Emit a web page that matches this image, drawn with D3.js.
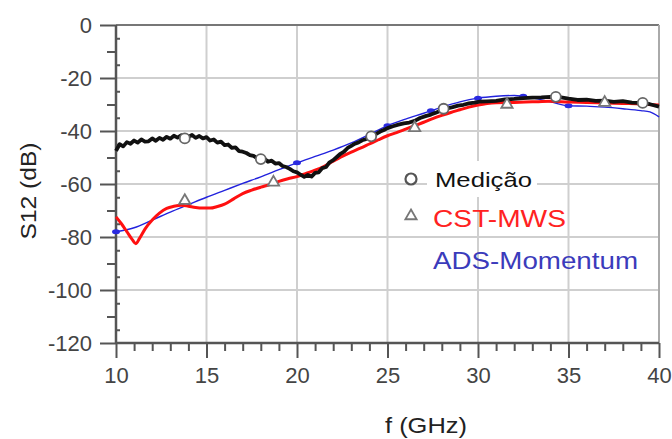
<!DOCTYPE html>
<html>
<head>
<meta charset="utf-8">
<script src="https://cdn.jsdelivr.net/npm/d3@7"></script>
<style>
  body { margin: 0; background: #fff; }
  svg text { font-family: "Liberation Sans", Arial, sans-serif; }
</style>
</head>
<body>
<div id="chart"></div>
<script>
// S12 vs frequency: measurement, CST-MWS, ADS-Momentum

const xTicks = [10, 15, 20, 25, 30, 35, 40]
const yTicks = [0, -20, -40, -60, -80, -100, -120]

// Medição (noisy measured trace)
const measF = [10, 10.2, 10.4, 10.6, 10.8, 11, 11.2, 11.4, 11.6, 11.8, 12, 12.2, 12.4, 12.6, 12.8, 13, 13.2, 13.4, 13.6, 13.8,
  14, 14.2, 14.4, 14.6, 14.8, 15, 15.2, 15.4, 15.6, 15.8, 16, 16.2, 16.4, 16.6, 16.8, 17, 17.2, 17.4, 17.6, 17.8,
  18, 18.2, 18.4, 18.6, 18.8, 19, 19.2, 19.4, 19.6, 19.8, 20, 20.2, 20.4, 20.6, 20.8, 21, 21.2, 21.4, 21.6, 21.8,
  22, 22.2, 22.4, 22.6, 22.8, 23, 23.2, 23.4, 23.6, 23.8, 24, 24.2, 24.4, 24.6, 24.8, 25, 25.3, 25.6, 25.9, 26.2,
  26.5, 26.8, 27.1, 27.4, 27.7, 28, 28.3, 28.6, 28.9, 29.2, 29.5, 29.8, 30.1, 30.5, 31, 31.5, 32, 32.5, 33, 33.5,
  34, 34.5, 35, 35.5, 36, 36.5, 37, 37.5, 38, 38.5, 39, 39.5, 40]
const measDb = [-47.5, -45, -45.8, -44.2, -44.8, -43.6, -44.4, -43.2, -44, -43.9, -42.8, -43.7, -42.6, -43.3, -42.2, -42.9, -41.8, -42.5, -41.6, -42.8,
  -42.2, -41.5, -42.6, -41.9, -42.8, -42.3, -43.6, -43.2, -44.4, -44, -45.3, -45.1, -46.4, -46.2, -47.6, -47.8, -48.3, -49.1, -49.4, -50.3,
  -50.6, -50.4, -51.6, -51.2, -52.3, -52.1, -53.2, -53.6, -54.3, -55.2, -55.6, -56.5, -57.3, -56.6, -57.2, -55.8, -55.6, -54, -53.6, -51.8,
  -51, -49.8, -48.6, -47.8, -46.4, -45.6, -44.8, -44.3, -43.5, -43.1, -42.3, -41.9, -41, -40.2, -39.6, -38.9, -38.2, -37.6, -37.1, -36.8,
  -36.2, -35.1, -34.4, -33.8, -33, -32.2, -31.5, -31, -30.4, -30.1, -29.6, -29.3, -28.9, -28.8, -28.6, -28.1, -27.9, -27.6, -27.4, -27.3,
  -27.1, -27.2, -27.8, -28.3, -28.2, -28.6, -28.5, -29, -28.7, -29.3, -29.4, -29.9, -30.8]
const measMarkF = [13.8, 18, 24.1, 28.1, 34.3, 39.1]
const measMarkDb = [-42.8, -50.6, -42, -31.6, -27.1, -29.4]

// CST-MWS
const cstF = [10, 10.3, 10.6, 10.9, 11.1, 11.3, 11.6, 12, 12.4, 12.8, 13.2, 13.6, 14, 14.4, 14.8, 15.2, 15.6, 16, 16.5, 17,
  17.5, 18, 18.5, 19, 19.5, 20, 20.5, 21, 21.5, 22, 22.5, 23, 23.5, 24, 24.5, 25, 25.5, 26, 26.5, 27,
  27.5, 28, 28.5, 29, 29.5, 30, 30.5, 31, 32, 33, 34, 35, 36, 37, 38, 39, 40]
const cstDb = [-72.4, -75, -78, -81, -82.5, -80.5, -77, -73.6, -71, -69.2, -68.4, -68, -68.4, -68.9, -69.1, -69.1, -68.5, -67.6, -65.6, -63.6,
  -62.3, -61.2, -60.2, -59, -58, -57.2, -56, -54.8, -53.3, -51.4, -49.6, -48, -46.5, -44.9, -43.3, -41.8, -40.6, -39.3, -38, -36.7,
  -35.3, -34.1, -33, -32, -31, -30.2, -29.6, -29.3, -29.2, -29, -28.8, -29.1, -29.2, -29.4, -29.6, -29.8, -30.2]
const cstMarkF = [13.8, 18.7, 26.5, 31.6, 37]
const cstMarkDb = [-66.3, -59.4, -38.8, -30, -29.3]

// ADS-Momentum
const adsF = [10, 11, 12, 13, 14, 15, 16, 17, 18, 19, 20, 21, 22, 23, 24, 25, 26, 27, 28, 29, 30, 31, 32, 33, 34, 35, 36, 37, 38, 39, 39.5, 40]
const adsDb = [-78, -76.5, -73.6, -70.6, -67.8, -65, -62.4, -59.8, -57.3, -54.6, -52, -49.6, -47.2, -44.5, -41.3, -38, -35.5, -33.3, -31, -29, -27.6, -26.9, -26.6, -27.5, -29, -30.5, -30.6, -31, -31.6, -32.3, -32.8, -34.7]
const adsMarkF = [10, 20, 25, 27.4, 30, 32.5, 35]
const adsMarkDb = [-78, -52, -38, -32.4, -27.6, -26.9, -30.5]

const W = 672, H = 439
const m = {top: 25, right: 13, bottom: 96, left: 116}

const svg = d3.select("#chart").append("svg")
  .attr("width", W).attr("height", H)
  .style("background", "#fff")

const x = d3.scaleLinear().domain([10, 40]).range([m.left, W - m.right])
const y = d3.scaleLinear().domain([-120, 0]).range([H - m.bottom, m.top])

// grid
svg.append("g").selectAll("line").data(xTicks.slice(1, -1)).join("line")
  .attr("x1", d => x(d)).attr("x2", d => x(d))
  .attr("y1", y(0)).attr("y2", y(-120))
  .attr("stroke", "#cfcfcf").attr("stroke-width", 2)
svg.append("g").selectAll("line").data(yTicks.slice(1, -1)).join("line")
  .attr("x1", x(10)).attr("x2", x(40))
  .attr("y1", d => y(d)).attr("y2", d => y(d))
  .attr("stroke", "#cfcfcf").attr("stroke-width", 2)

// frame top / right
svg.append("line").attr("x1", x(10)).attr("x2", x(40)).attr("y1", y(0)).attr("y2", y(0))
  .attr("stroke", "#777").attr("stroke-width", 2)
svg.append("line").attr("x1", x(40)).attr("x2", x(40)).attr("y1", y(0)).attr("y2", y(-120))
  .attr("stroke", "#aaa").attr("stroke-width", 2)

function styleAxis(g) {
  g.select(".domain").remove()
  g.selectAll("line").attr("stroke", "#555").attr("stroke-width", 2)
  g.selectAll("text").attr("fill", "#444").style("font-size", "22px")
    .style("font-family", "'Liberation Sans', Arial, sans-serif")
}

// y axis (plain hyphen minus, like the original)
svg.append("g").attr("transform", `translate(${x(10)},0)`)
  .call(d3.axisLeft(y).tickValues(yTicks).tickSize(16).tickPadding(8).tickFormat(d => String(d)))
  .call(styleAxis)
  .selectAll("text").attr("dy", "0.36em")
svg.append("g").attr("transform", `translate(${x(10)},0)`)
  .call(d3.axisLeft(y).tickValues(d3.range(-110, 0, 20)).tickSize(9).tickFormat(""))
  .call(styleAxis)
svg.append("g").attr("transform", `translate(${x(10)},0)`)
  .call(d3.axisRight(y).tickValues(d3.range(-115, 0, 10)).tickSize(4).tickFormat(""))
  .call(styleAxis)

// x axis
svg.append("g").attr("transform", `translate(0,${y(-120)})`)
  .call(d3.axisBottom(x).tickValues(xTicks).tickSize(15).tickPadding(9).tickFormat(d => String(d)))
  .call(styleAxis)
svg.append("g").attr("transform", `translate(0,${y(-120)})`)
  .call(d3.axisBottom(x).tickValues(d3.range(11, 40).filter(d => d % 5 !== 0)).tickSize(8).tickFormat(""))
  .call(styleAxis)

// axis lines
svg.append("line").attr("x1", x(10)).attr("x2", x(10)).attr("y1", y(0)).attr("y2", y(-120))
  .attr("stroke", "#555").attr("stroke-width", 2.5)
svg.append("line").attr("x1", x(10)).attr("x2", x(40)).attr("y1", y(-120)).attr("y2", y(-120))
  .attr("stroke", "#555").attr("stroke-width", 2.5)

// axis titles
svg.append("text").attr("x", 426).attr("y", 433).attr("text-anchor", "middle")
  .attr("textLength", 82).attr("lengthAdjust", "spacingAndGlyphs")
  .style("font-size", "22px").attr("fill", "#222").text("f (GHz)")
svg.append("text").attr("transform", "translate(36,191) rotate(-90)").attr("text-anchor", "middle")
  .attr("textLength", 97).attr("lengthAdjust", "spacingAndGlyphs")
  .style("font-size", "22px").attr("fill", "#222").text("S12 (dB)")

const zip = (a, b) => a.map((v, i) => [v, b[i]])
const line = d3.line().x(d => x(d[0])).y(d => y(d[1]))

// ADS-Momentum (thin blue)
svg.append("path").datum(zip(adsF, adsDb))
  .attr("d", line.curve(d3.curveMonotoneX))
  .attr("fill", "none").attr("stroke", "#2222dd").attr("stroke-width", 1.4)
svg.append("g").selectAll("ellipse").data(zip(adsMarkF, adsMarkDb)).join("ellipse")
  .attr("cx", d => x(d[0])).attr("cy", d => y(d[1])).attr("rx", 4).attr("ry", 2.5)
  .attr("fill", "#2a2ae0")

// CST-MWS (red)
svg.append("path").datum(zip(cstF, cstDb))
  .attr("d", line.curve(d3.curveMonotoneX))
  .attr("fill", "none").attr("stroke", "#ff1010").attr("stroke-width", 3)
  .attr("stroke-linejoin", "round")

// Medição (black)
svg.append("path").datum(zip(measF, measDb))
  .attr("d", line.curve(d3.curveLinear))
  .attr("fill", "none").attr("stroke", "#111").attr("stroke-width", 3.8)
  .attr("stroke-linejoin", "round")

const tri = d3.symbol().type(d3.symbolTriangle).size(55)
svg.append("g").selectAll("path").data(zip(cstMarkF, cstMarkDb)).join("path")
  .attr("transform", d => `translate(${x(d[0])},${y(d[1])})`)
  .attr("d", tri).attr("fill", "#fff").attr("stroke", "#777").attr("stroke-width", 1.8)

svg.append("g").selectAll("circle").data(zip(measMarkF, measMarkDb)).join("circle")
  .attr("cx", d => x(d[0])).attr("cy", d => y(d[1])).attr("r", 5)
  .attr("fill", "#fff").attr("stroke", "#666").attr("stroke-width", 1.8)

// legend
const lg = svg.append("g")
lg.append("rect").attr("x", 427).attr("y", 161).attr("width", 110).attr("height", 36).attr("fill", "#fff")
lg.append("circle").attr("cx", 411).attr("cy", 179).attr("r", 5.5)
  .attr("fill", "#fff").attr("stroke", "#555").attr("stroke-width", 2.2)
lg.append("path").attr("transform", "translate(411,216)").attr("d", tri)
  .attr("fill", "#fff").attr("stroke", "#777").attr("stroke-width", 1.8)
lg.append("text").attr("x", 435).attr("y", 187).attr("textLength", 97).attr("lengthAdjust", "spacingAndGlyphs")
  .style("font-size", "21px").attr("fill", "#111").text("Medição")
lg.append("text").attr("x", 433).attr("y", 227).attr("textLength", 133).attr("lengthAdjust", "spacingAndGlyphs")
  .style("font-size", "23px").attr("fill", "#ff2222").text("CST-MWS")
lg.append("text").attr("x", 433).attr("y", 269).attr("textLength", 205).attr("lengthAdjust", "spacingAndGlyphs")
  .style("font-size", "23px").attr("fill", "#3b3bbb").text("ADS-Momentum")
</script>
</body>
</html>
